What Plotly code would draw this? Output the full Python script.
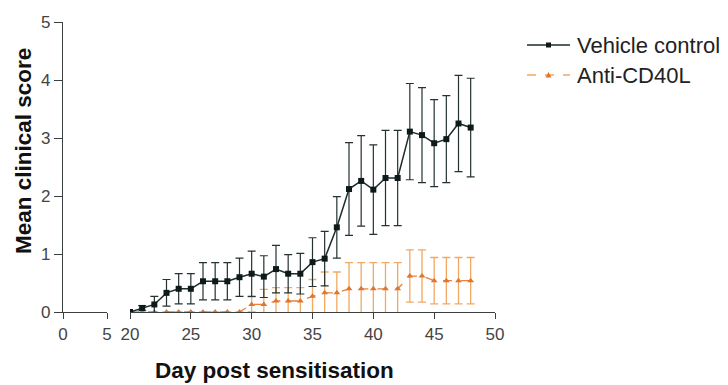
import plotly.graph_objects as go

# Study days (post sensitisation)
days = list(range(20, 49))

# Vehicle control group: mean clinical score and SEM
vehicle_mean = [0.00, 0.07, 0.13, 0.33, 0.40, 0.40, 0.53, 0.53, 0.53, 0.60,
                0.66, 0.61, 0.74, 0.66, 0.66, 0.86, 0.92, 1.46, 2.12, 2.26,
                2.11, 2.31, 2.31, 3.11, 3.05, 2.91, 2.98, 3.25, 3.18]
vehicle_sem = [0.00, 0.04, 0.14, 0.23, 0.26, 0.26, 0.32, 0.32, 0.32, 0.33,
               0.39, 0.36, 0.41, 0.33, 0.35, 0.42, 0.47, 0.53, 0.80, 0.78,
               0.77, 0.82, 0.82, 0.83, 0.82, 0.75, 0.75, 0.83, 0.85]

# Anti-CD40L group: mean clinical score and SEM
anti_mean = [0.00, 0.00, 0.00, 0.00, 0.00, 0.00, 0.00, 0.00, 0.00, 0.00,
             0.13, 0.13, 0.19, 0.19, 0.19, 0.27, 0.33, 0.33, 0.40, 0.40,
             0.40, 0.40, 0.40, 0.62, 0.62, 0.54, 0.54, 0.54, 0.54]
anti_sem = [0.00, 0.00, 0.00, 0.00, 0.00, 0.00, 0.00, 0.00, 0.00, 0.00,
            0.13, 0.26, 0.23, 0.23, 0.23, 0.29, 0.36, 0.36, 0.45, 0.45,
            0.45, 0.45, 0.45, 0.45, 0.45, 0.40, 0.40, 0.40, 0.40]

series_names = ["Vehicle control", "Anti-CD40L"]
y_ticks = [0, 1, 2, 3, 4, 5]
x_ticks_early = [0, 5]
x_ticks_late = [20, 25, 30, 35, 40, 45, 50]

axis_col = "#3a3f3f"
veh_line = "#1c2b2b"
veh_marker = "#0e1a1a"
anti_line = "#e8823e"
anti_marker = "#e07530"
anti_err = "#f2a860"
font_family = "Liberation Sans, Arial, Helvetica, sans-serif"

# plot-area geometry (pixels) used to place text and legend in paper coordinates
PL, PR, PT, PB = 63, 495, 22, 312
PW, PH = PR - PL, PB - PT


def px_x(px):
    return (px - PL) / PW


def px_y(py):
    return (PB - py) / PH


fig = go.Figure()

# empty trace so the short early-day axis segment (0-5) gets its own subplot
fig.add_trace(go.Scatter(x=[None], y=[None], xaxis="x", yaxis="y",
                         showlegend=False, hoverinfo="skip"))

fig.add_trace(go.Scatter(
    x=days, y=anti_mean, xaxis="x2", yaxis="y",
    name=series_names[1], mode="lines+markers", showlegend=False,
    line=dict(color=anti_line, width=1.3, dash="dash"),
    marker=dict(symbol="triangle-up", size=6, color=anti_marker),
    error_y=dict(type="data", array=anti_sem, visible=True,
                 color=anti_err, thickness=1.3, width=4),
))

fig.add_trace(go.Scatter(
    x=days, y=vehicle_mean, xaxis="x2", yaxis="y",
    name=series_names[0], mode="lines+markers", showlegend=False,
    line=dict(color=veh_line, width=1.5),
    marker=dict(symbol="square", size=6, color=veh_marker),
    error_y=dict(type="data", array=vehicle_sem, visible=True,
                 color="#243232", thickness=1.2, width=4),
))

tick_font = dict(family=font_family, size=17, color="#444")
title_font = dict(family=font_family, size=22.5, color="#111")

fig.update_layout(
    width=728, height=385,
    margin=dict(l=PL, r=728 - PR, t=PT, b=385 - PB),
    paper_bgcolor="white", plot_bgcolor="white",
    font=dict(family=font_family),
    showlegend=False,
    xaxis=dict(
        domain=[0, 44 / PW], range=[0, 5],
        tickvals=x_ticks_early, ticks="outside", ticklen=6,
        tickcolor=axis_col, showline=True, linecolor=axis_col, linewidth=1.2,
        showgrid=False, zeroline=False, tickfont=tick_font, anchor="y",
    ),
    xaxis2=dict(
        domain=[67 / PW, 1], range=[20, 50],
        tickvals=x_ticks_late, ticks="outside", ticklen=6,
        tickcolor=axis_col, showline=True, linecolor=axis_col, linewidth=1.2,
        showgrid=False, zeroline=False, tickfont=tick_font, anchor="y",
    ),
    yaxis=dict(
        range=[0, 5], tickvals=y_ticks, ticks="outside", ticklen=8,
        tickcolor=axis_col, showline=True, linecolor=axis_col, linewidth=1.2,
        showgrid=False, zeroline=False, tickfont=tick_font, anchor="x",
    ),
)

fig.add_annotation(
    text="<b>Day post sensitisation</b>", xref="paper", yref="paper",
    x=px_x(274), y=px_y(370), xanchor="center", yanchor="middle",
    showarrow=False, font=title_font,
)

fig.add_annotation(
    text="<b>Mean clinical score</b>", xref="paper", yref="paper",
    x=px_x(23), y=px_y(151), xanchor="center", yanchor="middle",
    textangle=-90, showarrow=False, font=title_font,
)

# legend drawn by hand: sample line, marker and label for each series
legend_rows = [
    (series_names[0], 45, veh_line, "solid", veh_marker, "square"),
    (series_names[1], 75, anti_err, "dash", anti_marker, "triangle"),
]
for label, py, lcol, ldash, mcol, msym in legend_rows:
    fig.add_shape(type="line", xref="paper", yref="paper",
                  x0=px_x(527), x1=px_x(570), y0=px_y(py), y1=px_y(py),
                  line=dict(color=lcol, width=1.5, dash=ldash))
    cx, cy = 548.5, py
    if msym == "square":
        fig.add_shape(type="rect", xref="paper", yref="paper",
                      x0=px_x(cx - 2.5), x1=px_x(cx + 2.5),
                      y0=px_y(cy + 2.5), y1=px_y(cy - 2.5),
                      fillcolor=mcol, line=dict(width=0))
    else:
        path = (f"M {px_x(cx - 3)},{px_y(cy + 2.5)} "
                f"L {px_x(cx + 3)},{px_y(cy + 2.5)} "
                f"L {px_x(cx)},{px_y(cy - 3)} Z")
        fig.add_shape(type="path", xref="paper", yref="paper", path=path,
                      fillcolor=mcol, line=dict(width=0))
    fig.add_annotation(
        text=label, xref="paper", yref="paper",
        x=px_x(575), y=px_y(py), xanchor="left", yanchor="middle",
        showarrow=False, font=dict(family=font_family, size=22, color="#222"),
    )

fig.write_html("out.html")
